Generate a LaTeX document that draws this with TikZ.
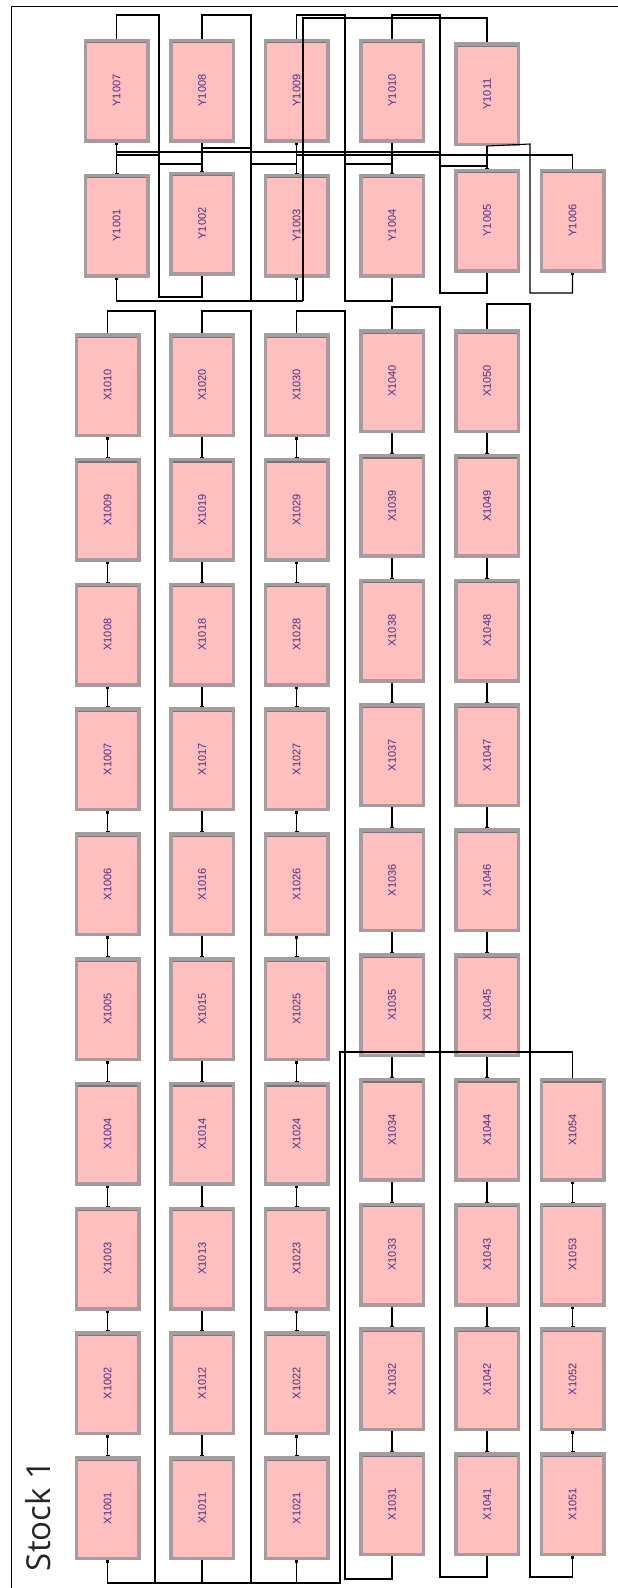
\documentclass[tikz,border=0pt]{standalone}
\usepackage{fontspec}
\setmainfont{Liberation Sans}
\newfontfamily\stockfont{Open Sans}
\usetikzlibrary{arrows.meta}
\definecolor{boxpink}{HTML}{FFBFBF}
\definecolor{boxgray}{HTML}{A59D9D}
\definecolor{boxdark}{HTML}{807272}
\definecolor{labcol}{HTML}{4F2A80}
\tikzset{
  blk/.style={rectangle, minimum width=62.5pt, minimum height=100.5pt, inner sep=0pt,
    fill=boxpink, draw=boxgray, line width=3.5pt,
    font=\fontsize{11}{11}\selectfont, text=labcol,
    path picture={
      \fill[boxdark] ([yshift=2pt]path picture bounding box.north west) rectangle ([yshift=-3pt]path picture bounding box.north east);
      \draw[boxdark!80, line width=0.8pt] ([yshift=-0.8pt]path picture bounding box.south west) -- ([yshift=-0.8pt]path picture bounding box.south east);
    }},
  wire/.style={draw=black, line width=1.1pt},
  link/.style={draw=black, line width=1.1pt, {Square[length=2.6pt,width=2.8pt]}-{Bar[width=4pt,line width=1pt]}},
  sq/.style={draw=black, line width=1.1pt, {Square[length=2.6pt,width=2.8pt]}-},
}
\newcommand{\blk}[3]{\node[blk] (#1) at (#2,#3) {\rotatebox{90}{#1}};}
\begin{document}
\begin{tikzpicture}[x=1pt,y=-1pt]
\useasboundingbox (0,0) rectangle (618,1588);
\fill[white] (0,0) rectangle (618,1588);
% frame
\draw[line width=1pt] (11,1588) -- (11,6) -- (618,6);
% Stock label
\node[font=\stockfont\fontsize{33}{33}\selectfont, text=black!85] (stock) at (38,1516) {\rotatebox{90}{Stock 1}};
% Y boxes
\blk{Y1007}{116.5}{90.5}
\blk{Y1008}{202}{90.5}
\blk{Y1009}{296.5}{90.5}
\blk{Y1010}{392}{90.5}
\blk{Y1011}{487}{94}
\blk{Y1001}{116.5}{225.5}
\blk{Y1002}{202}{223.5}
\blk{Y1003}{296.5}{225.5}
\blk{Y1004}{392}{225.5}
\blk{Y1005}{487}{220.5}
\blk{Y1006}{572.5}{220.5}
% X boxes columns 1-3
\foreach \c/\cx in {0/107.5,1/202,2/296.5}{
  \foreach \j in {1,...,10}{
    \pgfmathtruncatemacro{\num}{1000+\c*10+\j}
    \pgfmathsetmacro{\cy}{333+124.8*(10-\j)+52}
    \node[blk] (X\num) at (\cx,\cy) {\rotatebox{90}{X\num}};
  }
}
% columns 4-5
\foreach \c/\cx in {3/392,4/487}{
  \foreach \j in {1,...,10}{
    \pgfmathtruncatemacro{\num}{1000+\c*10+\j}
    \pgfmathsetmacro{\cy}{329+124.8*(10-\j)+52}
    \node[blk] (X\num) at (\cx,\cy) {\rotatebox{90}{X\num}};
  }
}
% column 6
\foreach \j in {1,...,4}{
  \pgfmathtruncatemacro{\num}{1050+\j}
  \pgfmathsetmacro{\cy}{329+124.8*(10-\j)+52}
  \node[blk] (X\num) at (572.5,\cy) {\rotatebox{90}{X\num}};
}
% links inside X columns
\foreach \c in {0,1,2,3,4}{
  \foreach \j in {1,...,9}{
    \pgfmathtruncatemacro{\lo}{1000+\c*10+\j}
    \pgfmathtruncatemacro{\hi}{1000+\c*10+\j+1}
    \draw[link] (X\hi.south) -- (X\lo.north);
  }
}
\foreach \j in {1,2,3}{
  \pgfmathtruncatemacro{\lo}{1050+\j}
  \pgfmathtruncatemacro{\hi}{1050+\j+1}
  \draw[link] (X\hi.south) -- (X\lo.north);
}
% long loops in X region
\coordinate (b1) at (155,1583);
\coordinate (b2) at (251,1583);
\coordinate (b3) at (340,1583);
\coordinate (k3) at (340,1052);
\draw[wire] (X1010.north) |- (155,311) -- (b1);
\draw[wire] (X1020.north) |- (251,311) -- (b2);
\draw[sq] (X1001.south) |- (b3) -- (k3) -| (X1054.north);
\draw[sq] (X1011.south) -- (X1011.south |- b1);
\draw[sq] (X1021.south) -- (X1021.south |- b1);
\draw[sq] (X1031.south) |- (345,1579) -- (345,311) -| (X1030.north);
\draw[sq] (X1041.south) |- (440,1577) -- (440,307) -| (X1040.north);
\draw[sq] (X1051.south) |- (530,1577) -- (530,304) -| (X1050.north);
% Y region: vertical links
\draw[link] (Y1007.south) -- (Y1001.north);
\draw[link] (Y1008.south) -- (Y1002.north);
\draw[link] (Y1009.south) -- (Y1003.north);
\draw[link] (Y1010.south) -- (Y1004.north);
\draw[link] (Y1011.south) -- (Y1005.north);
% Y region: loops over the top
\coordinate (ybl) at (303,301);
\draw[sq] (Y1002.south) |- (159,297) -- (159,15) -| (Y1007.north);
\draw[wire] (Y1008.north) |- (251,15) -- (251,301);
\draw[sq] (Y1004.south) |- (345,301) -- (345,15) -| (Y1009.north);
\draw[sq] (Y1005.south) |- (440,293) -- (440,15) -| (Y1010.north);
\draw[wire] (ybl) -- (303,18) -| (Y1011.north);
\draw[sq] (Y1001.south) |- (ybl);
\draw[sq] (Y1003.south) -- (Y1003.south |- ybl);
\draw[sq] (Y1006.south) |- (530,293) -- (530,144) -- (Y1011.south);
% Y region: cross lines between rows
\draw[wire] (116.5,152) -- (440,152);
\draw[wire] (116.5,155) -- (159,155);
\draw[wire] (296.5,155) -| (Y1006.north);
\draw[wire] (202,148) -- (251,148);
\draw[wire] (159,164) -- (202,164);
\draw[wire] (251,164) -- (296.5,164);
\draw[wire] (345,164) -- (392,164);
\draw[wire] (440,166) -- (487,166);
\end{tikzpicture}
\end{document}
